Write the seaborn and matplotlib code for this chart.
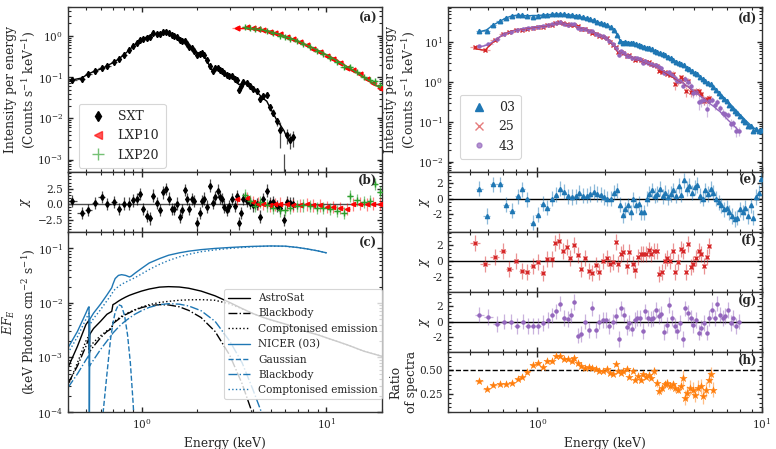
import numpy as np
import matplotlib
matplotlib.use("Agg")
import matplotlib.pyplot as plt
import seaborn as sns

# ---------------- values ----------------
# (a)/(b) AstroSat SXT
sxt_energy = [0.419, 0.475, 0.515, 0.56, 0.61, 0.653, 0.71, 0.755, 0.80, 0.86,
              0.90, 0.94, 0.98, 1.02, 1.07, 1.11, 1.15, 1.21, 1.26, 1.31,
              1.36, 1.41, 1.46, 1.50, 1.55, 1.61, 1.65, 1.71, 1.76, 1.81,
              1.87, 1.92, 1.99, 2.06, 2.12, 2.18, 2.25, 2.35, 2.43, 2.50,
              2.58, 2.66, 2.72, 2.79, 2.89, 2.99, 3.08, 3.21, 3.27, 3.36,
              3.44, 3.56, 3.71, 3.87, 4.03, 4.20, 4.38, 4.56, 4.76, 4.96,
              5.17, 5.39, 5.62, 5.90, 6.10, 6.36, 6.63]
sxt_counts = [0.085, 0.095, 0.12, 0.14, 0.16, 0.19, 0.23, 0.28, 0.34, 0.46,
              0.56, 0.65, 0.75, 0.85, 0.95, 1.02, 1.08, 1.12, 1.15, 1.16,
              1.15, 1.12, 1.06, 1.0, 0.93, 0.85, 0.78, 0.70, 0.62, 0.55,
              0.48, 0.42, 0.40, 0.38, 0.37, 0.33, 0.26, 0.17, 0.14, 0.16,
              0.155, 0.145, 0.135, 0.125, 0.115, 0.105, 0.10, 0.09, 0.075, 0.066,
              0.068, 0.070, 0.068, 0.060, 0.052, 0.045, 0.036, 0.030, 0.026, 0.018,
              0.013, 0.009, 0.007, 0.005, 0.0035, 0.0028, 0.0033]
sxt_chi = [0.5, -1.4, -0.9, 0.2, 1.2, 0.0, 0.4, -0.8, 0.1, 0.1,
           0.6, 0.8, 1.6, -0.8, -1.9, -2.3, 1.4, 0.2, -0.9, 1.9,
           2.5, 0.9, -0.8, -0.8, 0.1, -2.0, -0.9, 2.3, 0.8, -0.8,
           0.8, 0.5, -3.1, -1.4, 0.5, 0.9, -0.4, 3.0, 0.2, 1.1,
           2.2, 1.1, 0.8, -0.4, -0.9, -0.3, 0.8, -0.3, 1.3, -3.1,
           -1.4, 0.8, 0.5, 0.2, -0.2, 0.0, -2.0, 0.8, 2.2, 0.2,
           0.3, -0.3, -0.6, -2.6, 0.3, 0.2, 0.1]

# LAXPC 10 / 20
lxp10_energy = [3.30, 3.71, 4.03, 4.29, 4.56, 4.96, 5.28, 5.62, 6.10, 6.63, 7.21, 7.83,
                8.51, 9.25, 10.05, 10.9, 11.9, 12.9, 14.0, 15.2, 16.5, 17.9, 19.5]
lxp10_counts = [1.5, 1.5, 1.48, 1.45, 1.38, 1.28, 1.18, 1.08, 0.95, 0.83, 0.71, 0.60,
                0.50, 0.42, 0.34, 0.29, 0.23, 0.18, 0.145, 0.115, 0.09, 0.07, 0.055]
lxp10_chi = [0.8, 1.0, 0.3, 0.1, 0.1, -0.2, -0.05, 0.1, -0.05, -0.2, -0.2, -0.05,
             -0.2, -0.2, -0.45, -0.45, -0.6, -0.8, -0.05, 0.1, -0.05, 0.1, 0.1]
lxp20_energy = [3.63, 3.87, 4.11, 4.38, 4.76, 5.17, 5.62, 5.98, 6.36, 6.91, 7.51, 8.16,
                8.87, 9.64, 10.5, 11.4, 12.4, 13.4, 14.6, 15.9, 17.2, 18.3, 19.5]
lxp20_counts = [1.5, 1.49, 1.47, 1.43, 1.33, 1.2, 1.08, 0.98, 0.89, 0.77, 0.65, 0.55,
                0.46, 0.38, 0.31, 0.25, 0.2, 0.165, 0.13, 0.1, 0.08, 0.065, 0.055]
lxp20_chi = [1.5, 0.5, -0.3, 0.3, -0.2, -0.6, -1.0, -0.9, -0.6, -0.3, -0.2, -0.3,
             -0.6, -0.6, -0.8, -1.1, -1.4, 1.3, 0.7, 0.3, 0.5, 3.3, 2.0]

# (c) unfolded model components
mod_energy = [0.40, 0.45, 0.50, 0.515, 0.52, 0.522, 0.525, 0.53, 0.55, 0.60,
              0.65, 0.69, 0.70, 0.72, 0.75, 0.78, 0.82, 0.86, 0.88, 0.92,
              1.0, 1.1, 1.25, 1.4, 1.6, 1.8, 2.1, 2.5, 3.0, 3.5,
              4.0, 4.5, 5.0, 6.0, 7.0, 8.0, 9.0, 10.0, 13.0, 16.0, 20.0]
astro_total = [6.5e-4, 1.6e-3, 4.0e-3, 4.6e-3, 4.9e-3, 1.4e-3, 2.6e-3, 2.8e-3, 3.4e-3, 4.6e-3,
               6.2e-3, 7.0e-3, 9.3e-3, 9.8e-3, 0.0108, 0.0117, 0.0128, 0.0138, 0.0142, 0.015,
               0.0165, 0.018, 0.0195, 0.0199, 0.0196, 0.0186, 0.0165, 0.0135, 0.0102, 0.0079,
               0.0064, 0.0055, 0.0049, 0.0041, 0.0034, 0.0029, 0.0026, 0.0023, 0.0017, 0.0013, 0.00105]
astro_bbody = [3.3e-4, 7e-4, 1.6e-3, 2.1e-3, 2.2e-3, 1.2e-3, 1.3e-3, 1.35e-3, 1.6e-3, 2.3e-3,
               3.0e-3, 3.4e-3, 4.2e-3, 4.5e-3, 5.0e-3, 5.5e-3, 6.1e-3, 6.6e-3, 6.9e-3, 7.4e-3,
               8.2e-3, 8.9e-3, 9.3e-3, 9.2e-3, 8.5e-3, 7.3e-3, 5.4e-3, 3.0e-3, 1.1e-3, 3.3e-4,
               9e-5, 2e-5, 4e-6, 1e-7]
astro_compt = [3.0e-4, 8e-4, 2.0e-3, 2.4e-3, 2.6e-3, 1.6e-3, 1.5e-3, 1.6e-3, 1.9e-3, 2.5e-3,
               3.1e-3, 3.5e-3, 4.4e-3, 4.7e-3, 5.2e-3, 5.7e-3, 6.3e-3, 6.8e-3, 7.0e-3, 7.5e-3,
               8.4e-3, 9.3e-3, 0.0102, 0.0107, 0.0112, 0.0114, 0.0115, 0.0112, 0.0096, 0.0078,
               0.0064, 0.0055, 0.0049, 0.0041, 0.0034, 0.0029, 0.0026, 0.0023, 0.0017, 0.0013, 0.00105]
nicer_total = [1.5e-3, 3.0e-3, 6.5e-3, 8.2e-3, 8.5e-3, 3e-5, 5.0e-3, 5.3e-3, 6.5e-3, 9.5e-3,
               0.014, 0.019, 0.022, 0.028, 0.032, 0.033, 0.032, 0.030, 0.031, 0.035,
               0.043, 0.054, 0.065, 0.075, 0.083, 0.089, 0.095, 0.100, 0.104, 0.107,
               0.109, 0.110, 0.111, 0.110, 0.104, 0.097, 0.090, 0.083]
nicer_bbody = [2.8e-4, 5e-4, 9e-4, 1.05e-3, 1.1e-3, 7e-4, 7e-4, 7.5e-4, 9e-4, 1.4e-3,
               2.0e-3, 2.6e-3, 2.8e-3, 3.1e-3, 3.6e-3, 4.1e-3, 4.7e-3, 5.3e-3, 5.6e-3, 6.2e-3,
               7.2e-3, 8.3e-3, 9.3e-3, 9.7e-3, 9.5e-3, 8.8e-3, 7.2e-3, 4.6e-3, 2.0e-3, 8e-4,
               2.6e-4, 9e-5, 3e-5, 2e-6]
nicer_compt = [1.2e-3, 2.4e-3, 5.0e-3, 6.2e-3, 6.5e-3, 4.0e-3, 4.0e-3, 4.2e-3, 5.2e-3, 7.5e-3,
               0.011, 0.0145, 0.016, 0.018, 0.020, 0.022, 0.024, 0.026, 0.027, 0.029,
               0.034, 0.041, 0.051, 0.060, 0.070, 0.078, 0.087, 0.094, 0.100, 0.104,
               0.107, 0.109, 0.110, 0.109, 0.104, 0.097, 0.090, 0.083]
gauss_energy = [0.60, 0.62, 0.65, 0.68, 0.70, 0.72, 0.75, 0.78, 0.81, 0.84, 0.87, 0.90, 0.92]
nicer_gauss = [2e-5, 1e-4, 5e-4, 2.2e-3, 4.2e-3, 6.8e-3, 9.3e-3, 8.8e-3, 5.8e-3, 2.6e-3, 8e-4, 1.5e-4, 4e-5]

# (d)-(g) NICER observations 03, 25, 43
n03_energy = [0.552, 0.594, 0.632, 0.682, 0.725, 0.771, 0.817, 0.857, 0.902, 0.953,
              1.003, 1.056, 1.107, 1.158, 1.206, 1.261, 1.314, 1.364, 1.421, 1.481,
              1.537, 1.591, 1.658, 1.715, 1.787, 1.837, 1.914, 1.980, 2.049, 2.120,
              2.193, 2.270, 2.333, 2.398, 2.464, 2.532, 2.603, 2.675, 2.749, 2.825,
              2.903, 2.983, 3.066, 3.150, 3.238, 3.327, 3.419, 3.514, 3.611, 3.711,
              3.814, 3.92, 4.03, 4.14, 4.26, 4.37, 4.50, 4.62, 4.75, 4.88,
              5.02, 5.16, 5.30, 5.45, 5.60, 5.75, 5.91, 6.07, 6.24, 6.42,
              6.59, 6.78, 6.96, 7.16, 7.35, 7.56, 7.77, 7.98, 8.20, 8.43,
              8.66, 8.90, 9.15, 9.40, 9.66, 9.86]
n03_counts = [18, 20, 26, 33, 40, 45, 47, 46, 45, 46,
              46, 47, 48, 49, 50, 50, 49, 48, 47, 45,
              43, 41, 39, 37, 34, 32, 30, 28, 26, 23,
              20, 15, 11, 10, 10, 9.8, 9.5, 9.2, 8.8, 8.4,
              8.0, 7.6, 7.2, 6.8, 6.4, 6.0, 5.6, 5.2, 4.9, 4.5,
              4.2, 3.9, 3.5, 3.2, 2.95, 2.7, 2.45, 2.2, 2.0, 1.8,
              1.6, 1.45, 1.3, 1.15, 1.02, 0.92, 0.82, 0.72, 0.62, 0.54,
              0.47, 0.40, 0.34, 0.29, 0.25, 0.21, 0.18, 0.15, 0.13, 0.11,
              0.095, 0.082, 0.072, 0.063, 0.055, 0.05]
n03_chi = [1.3, -2.3, 1.9, 1.9, -0.8, -1.6, 0.3, 1.2, -0.1, -3.2,
           -2.1, -0.7, -1.2, 0.0, 0.5, 1.3, 0.9, 0.3, 0.2, 0.3,
           0.8, 0.4, 0.4, 0.6, 0.9, 0.6, 0.5, 0.2, 0.0, 0.0,
           0.8, 1.1, -0.8, -2.2, -1.4, -0.9, -1.8, -0.1, -0.9, -0.7,
           -1.8, -1.8, 0.0, 0.6, 1.1, 0.4, 0.6, 1.3, 0.3, 0.8,
           0.2, 0.6, 1.1, 0.4, 1.7, 0.5, 2.4, 1.3, 1.7, 0.8,
           1.5, 1.8, 0.4, 0.0, 1.1, 0.6, 1.3, 0.8, 0.0, -0.5,
           -0.9, -1.4, -1.2, -1.8, -2.3, -2.7, -2.5, -1.4, -1.8, -1.2,
           -2.3, -0.9, -2.5, 0.2, 0.8, 2.6]

n25_energy = [0.528, 0.584, 0.648, 0.700, 0.750, 0.803, 0.857, 0.902, 0.953, 1.003,
              1.056, 1.100, 1.158, 1.202, 1.252, 1.304, 1.350, 1.397, 1.456, 1.511,
              1.569, 1.630, 1.692, 1.757, 1.824, 1.887, 1.966, 2.035, 2.106, 2.178,
              2.239, 2.293, 2.349, 2.414, 2.498, 2.567, 2.657, 2.729, 2.815, 2.883,
              2.963, 3.045, 3.129, 3.216, 3.305, 3.397, 3.491, 3.588, 3.688, 3.790,
              3.895, 4.00, 4.11, 4.23, 4.35, 4.47, 4.59, 4.70, 4.82, 4.95,
              5.08, 5.22, 5.37, 5.52, 5.67, 5.83]
n25_counts = [6.7, 6.2, 11, 15, 18, 20, 21, 22, 23, 24,
              25, 26, 27, 28, 29, 28, 27, 26.5, 25, 24,
              22.5, 21, 19.5, 18, 16.5, 15, 13.5, 12, 10.5, 8.5,
              6.5, 5.6, 5.3, 5.0, 4.7, 4.4, 4.1, 3.8, 3.6, 3.4,
              3.2, 3.0, 2.8, 2.65, 2.5, 2.35, 2.1, 1.9, 1.75, 1.55,
              1.45, 1.3, 1.2, 1.1, 1.0, 0.93, 0.8, 0.75, 0.65, 0.6,
              0.55, 0.48, 0.43, 0.38, 0.33, 0.29]
n25_chi = [2.2, -0.4, 0.5, 1.2, -1.0, 0.0, -1.3, -1.4, -0.6, -0.2,
           -1.5, 0.2, 0.2, 2.2, 2.5, 1.2, 1.7, 0.3, 2.0, 0.7,
           -1.0, 0.3, -1.3, -1.5, -0.5, -1.4, 0.0, 0.4, -0.4, -0.2,
           2.3, -0.4, 0.9, 1.1, -0.6, 1.1, -0.4, -1.1, 0.5, 0.9,
           0.8, 0.9, 1.3, 0.9, 1.2, 1.2, -1.6, -1.4, 0.0, 0.3,
           0.0, 1.2, -1.4, -0.2, 1.5, 1.2, -1.4, 2.1, -0.8, -0.4,
           0.3, 1.2, 0.9, -0.6, 0.5, 1.9]

n43_energy = [0.552, 0.605, 0.659, 0.710, 0.760, 0.809, 0.860, 0.905, 0.953, 1.010,
              1.063, 1.119, 1.158, 1.206, 1.261, 1.314, 1.364, 1.411, 1.460, 1.511,
              1.564, 1.630, 1.692, 1.757, 1.818, 1.887, 1.953, 2.021, 2.091, 2.163,
              2.239, 2.301, 2.365, 2.430, 2.498, 2.567, 2.639, 2.711, 2.786, 2.863,
              2.942, 3.024, 3.107, 3.193, 3.282, 3.373, 3.466, 3.562, 3.661, 3.764,
              3.868, 3.975, 4.09, 4.20, 4.32, 4.44, 4.56, 4.68, 4.81, 4.95,
              5.08, 5.22, 5.37, 5.52, 5.67, 5.83, 5.99, 6.16, 6.33, 6.50,
              6.68, 6.87, 7.06, 7.26, 7.46, 7.66, 7.87]
n43_counts = [7.5, 8.5, 12, 15.5, 18, 20, 21.5, 22.5, 23.5, 24.5,
              25.5, 26.5, 27, 28, 28.5, 28, 27, 26.5, 25.5, 24,
              23, 21, 19.5, 18, 16.5, 15, 13.8, 12.2, 10.8, 9,
              6.8, 5.6, 5.2, 5.0, 4.7, 4.4, 4.15, 3.9, 3.7, 3.5,
              3.3, 3.1, 2.9, 2.75, 2.6, 2.4, 2.2, 2.0, 1.85, 1.7,
              1.55, 1.4, 1.28, 1.15, 1.05, 0.95, 0.85, 0.76, 0.68, 0.6,
              0.54, 0.48, 0.42, 0.37, 0.33, 0.29, 0.26, 0.23, 0.2, 0.18,
              0.15, 0.13, 0.11, 0.095, 0.082, 0.07, 0.06]
n43_chi = [0.9, 0.6, -0.3, 0.0, 0.0, -0.6, 0.0, -0.6, -0.6, -0.6,
           -0.2, 0.2, 0.8, 1.3, 2.3, 0.5, 0.3, 0.8, 2.5, -1.8,
           -1.6, 0.0, -1.1, 1.7, -1.1, 0.0, 0.2, 0.2, -0.6, 0.0,
           0.7, -2.2, 1.7, 0.9, -0.7, -0.2, -0.9, 0.2, 0.5, 0.5,
           -1.2, 1.3, 0.5, 0.3, 0.5, 1.5, 0.7, 1.0, -1.3, -0.4,
           2.1, 0.5, -0.5, -1.2, -0.2, -2.2, 1.7, 1.1, 0.5, -0.4,
           0.2, -1.4, -0.8, -0.2, -1.4, 0.5, 1.5, 0.5, 2.3, 0.9,
           0.5, 0.7, 1.5, -0.2, 0.5, -0.6, 0.0]

# (h) ratio of spectra 25 / 03
ratio_energy = [0.552, 0.598, 0.636, 0.682, 0.725, 0.771, 0.817, 0.857, 0.902, 0.953,
                1.003, 1.056, 1.100, 1.158, 1.206, 1.261, 1.314, 1.364, 1.421, 1.460,
                1.511, 1.569, 1.630, 1.692, 1.757, 1.824, 1.887, 1.966, 2.035, 2.106,
                2.178, 2.239, 2.293, 2.349, 2.414, 2.498, 2.567, 2.657, 2.729, 2.815,
                2.883, 2.963, 3.045, 3.129, 3.216, 3.305, 3.397, 3.491, 3.588, 3.688,
                3.790, 3.895, 4.00, 4.11, 4.23, 4.35, 4.47, 4.53, 4.65, 4.78,
                4.92, 5.05, 5.19, 5.34, 5.48, 5.63, 5.79, 5.95, 6.07]
ratio_value = [0.384, 0.30, 0.34, 0.348, 0.348, 0.366, 0.41, 0.43, 0.48, 0.554,
               0.576, 0.54, 0.60, 0.60, 0.656, 0.656, 0.627, 0.627, 0.60, 0.638,
               0.583, 0.547, 0.529, 0.54, 0.522, 0.511, 0.493, 0.493, 0.511, 0.475,
               0.467, 0.565, 0.493, 0.475, 0.493, 0.511, 0.431, 0.493, 0.402, 0.438,
               0.395, 0.457, 0.431, 0.446, 0.42, 0.493, 0.366, 0.275, 0.312, 0.348,
               0.366, 0.33, 0.348, 0.312, 0.293, 0.33, 0.42, 0.203, 0.257, 0.312,
               0.293, 0.239, 0.312, 0.33, 0.221, 0.293, 0.402, 0.457, 0.293]

# ---------------- style ----------------
sns.set_theme(style="ticks", context="paper")
plt.rcParams.update({
    "font.family": ["DejaVu Serif"],
    "mathtext.fontset": "dejavuserif",
    "font.size": 8.5, "axes.labelsize": 8.8, "xtick.labelsize": 7.6,
    "ytick.labelsize": 7.6, "legend.fontsize": 8,
    "xtick.direction": "in", "ytick.direction": "in",
    "xtick.top": True, "ytick.right": True,
    "xtick.minor.visible": True, "ytick.minor.visible": True,
    "xtick.major.size": 3.5, "ytick.major.size": 3.5,
    "xtick.minor.size": 2, "ytick.minor.size": 2,
    "axes.linewidth": 1.0, "axes.edgecolor": "0.2",
    "legend.frameon": True, "legend.framealpha": 0.8,
    "legend.edgecolor": "0.8", "legend.fancybox": True,
})

BLUE, RED, PURPLE, ORANGE = "tab:blue", "tab:red", "tab:purple", "tab:orange"


def halfwidths(e):
    e = np.asarray(e, float)
    d = np.diff(e)
    return np.vstack([np.r_[d[0], d] / 2, np.r_[d, d[-1]] / 2])


def spectrum(ax, e, model, chi, relerr, color, marker, ms, label, alpha=0.5):
    e, model, chi = map(np.asarray, (e, model, chi))
    err = model * relerr
    data = model + chi * err
    ax.errorbar(e, data, xerr=halfwidths(e), yerr=err, fmt="none", ecolor=color,
                alpha=alpha, elinewidth=0.9, capsize=0, zorder=2)
    ax.plot(e, data, ls="none", marker=marker, ms=ms, color=color, label=label, zorder=3)
    sns.lineplot(x=e, y=model, ax=ax, color=color, lw=1.0, estimator=None, sort=False, zorder=4)


def residuals(ax, e, chi, color, marker, ms, alpha=0.5):
    ax.errorbar(e, chi, xerr=halfwidths(e), yerr=np.ones(len(chi)), fmt="none",
                ecolor=color, alpha=alpha, elinewidth=0.9, capsize=0, zorder=2)
    ax.plot(e, chi, ls="none", marker=marker, ms=ms, color=color, zorder=3)


def tag(ax, s):
    ax.text(0.985, 0.97, s, transform=ax.transAxes, ha="right", va="top",
            fontweight="bold", fontsize=8.5)


fig = plt.figure(figsize=(7.76, 4.49), dpi=100)
gl = fig.add_gridspec(3, 1, left=0.0876, right=0.4923, top=0.9844, bottom=0.0824,
                      height_ratios=[165, 60, 180], hspace=0)
gr = fig.add_gridspec(5, 1, left=0.5773, right=0.982, top=0.9844, bottom=0.0824,
                      height_ratios=[165, 60, 60, 60, 60], hspace=0)
axa = fig.add_subplot(gl[0])
axb = fig.add_subplot(gl[1], sharex=axa)
axc = fig.add_subplot(gl[2], sharex=axa)
axd = fig.add_subplot(gr[0])
axe = fig.add_subplot(gr[1], sharex=axd)
axf = fig.add_subplot(gr[2], sharex=axd)
axg = fig.add_subplot(gr[3], sharex=axd)
axh = fig.add_subplot(gr[4], sharex=axd)

legend_kw = dict(loc="lower left", borderaxespad=0, fontsize=9, markerscale=1.6,
                 handlelength=2.0, handletextpad=0.6, borderpad=0.5)

# ---- (a) AstroSat spectra ----
e_sxt = np.asarray(sxt_energy)
sxt_rel = np.where(e_sxt < 3.0, 0.04, np.where(e_sxt < 4.5, 0.08, np.where(e_sxt < 5.5, 0.2, 0.45)))
spectrum(axa, sxt_energy, sxt_counts, sxt_chi, sxt_rel, "black", "d", 3.2, "SXT", alpha=0.7)
spectrum(axa, lxp10_energy, lxp10_counts, lxp10_chi, 0.07, "red", "<", 3.5, "LXP10", alpha=0.5)
spectrum(axa, lxp20_energy, lxp20_counts, lxp20_chi, 0.07, "tab:green", "+", 5, "LXP20", alpha=0.6)
axa.set_yscale("log")
axa.set_ylim(5e-4, 5)
axa.set_ylabel("Intensity per energy\n(Counts s$^{-1}$ keV$^{-1}$)")
axa.yaxis.set_label_coords(-0.1, 0.5)
leg = axa.legend(bbox_to_anchor=(0.035, 0.025), **legend_kw)
for h in leg.legend_handles[1:]:
    h.set_alpha(0.65)
tag(axa, "(a)")

# ---- (b) residuals ----
residuals(axb, sxt_energy, sxt_chi, "black", "d", 3, alpha=0.7)
residuals(axb, lxp10_energy, lxp10_chi, "red", "<", 3, alpha=0.5)
residuals(axb, lxp20_energy, lxp20_chi, "tab:green", "+", 5, alpha=0.6)
axb.axhline(0, color="0.3", lw=1.0, zorder=1)
axb.set_ylim(-4.5, 5.2)
axb.set_yticks([-2.5, 0.0, 2.5])
axb.set_ylabel(r"$\chi$")
axb.yaxis.set_label_coords(-0.112, 0.5)
tag(axb, "(b)")

# ---- (c) unfolded models ----
E = np.asarray(mod_energy)
sns.lineplot(x=E, y=astro_total, ax=axc, color="black", lw=1.0, estimator=None, sort=False,
             label="AstroSat")
sns.lineplot(x=E[:len(astro_bbody)], y=astro_bbody, ax=axc, color="black", lw=1.0,
             linestyle="-.", estimator=None, sort=False, label="Blackbody")
sns.lineplot(x=E, y=astro_compt, ax=axc, color="black", lw=1.0, linestyle=":",
             estimator=None, sort=False, label="Comptonised emission")
sns.lineplot(x=E[:len(nicer_total)], y=nicer_total, ax=axc, color=BLUE, lw=1.0,
             estimator=None, sort=False, label="NICER (03)")
sns.lineplot(x=gauss_energy, y=nicer_gauss, ax=axc, color=BLUE, lw=1.0, linestyle="--",
             estimator=None, sort=False, label="Gaussian")
sns.lineplot(x=E[:len(nicer_bbody)], y=nicer_bbody, ax=axc, color=BLUE, lw=1.0,
             linestyle="-.", estimator=None, sort=False, label="Blackbody")
sns.lineplot(x=E[:len(nicer_compt)], y=nicer_compt, ax=axc, color=BLUE, lw=1.0,
             linestyle=":", estimator=None, sort=False, label="Comptonised emission")
axc.set_yscale("log")
axc.set_ylim(1e-4, 0.2)
axc.set_ylabel("$EF_E$\n(keV Photons cm$^{-2}$ s$^{-1}$)")
axc.yaxis.set_label_coords(-0.1, 0.5)
axc.legend(loc="lower right", bbox_to_anchor=(1.0, 0.07), borderaxespad=0, fontsize=7.6)
axc.set_xlabel("Energy (keV)")
tag(axc, "(c)")

for ax in (axa, axb, axc):
    ax.set_xscale("log")
axa.set_xlim(0.4, 20)
for ax in (axa, axb):
    ax.tick_params(labelbottom=False)

# ---- (d) NICER spectra ----
e03 = np.asarray(n03_energy)
e25 = np.asarray(n25_energy)
e43 = np.asarray(n43_energy)
rel03 = np.where(e03 < 5, 0.02, np.where(e03 < 8, 0.04, 0.08))
rel25 = np.where(e25 < 2, 0.04, np.where(e25 < 4, 0.07, 0.2))
rel43 = np.where(e43 < 2, 0.04, np.where(e43 < 4.5, 0.08, 0.25))
spectrum(axd, n03_energy, n03_counts, n03_chi, rel03, BLUE, "^", 3.2, "03", alpha=0.6)
spectrum(axd, n25_energy, n25_counts, n25_chi, rel25, RED, "x", 3.2, "25", alpha=0.45)
spectrum(axd, n43_energy, n43_counts, n43_chi, rel43, PURPLE, "o", 2.2, "43", alpha=0.45)
axd.set_yscale("log")
axd.set_ylim(5.5e-3, 75)
axd.set_ylabel("Intensity per energy\n(Counts s$^{-1}$ keV$^{-1}$)")
axd.yaxis.set_label_coords(-0.1, 0.5)
leg = axd.legend(bbox_to_anchor=(0.038, 0.08), **legend_kw)
for h, a in zip(leg.legend_handles, (1.0, 0.6, 0.7)):
    h.set_alpha(a)
tag(axd, "(d)")

# ---- (e)-(g) residuals ----
for ax, e, chi, c, m, ms, lim, t in (
        (axe, n03_energy, n03_chi, BLUE, "^", 3, (-4.4, 3.5), "(e)"),
        (axf, n25_energy, n25_chi, RED, "x", 3, (-3.9, 3.6), "(f)"),
        (axg, n43_energy, n43_chi, PURPLE, "o", 2.2, (-3.9, 3.8), "(g)")):
    residuals(ax, e, chi, c, m, ms, alpha=0.5)
    ax.axhline(0, color="black", lw=1.0, zorder=1)
    ax.set_ylim(*lim)
    ax.set_yticks([-2, 0, 2])
    ax.set_yticklabels(["-2", "0", "2"])
    ax.set_ylabel(r"$\chi$")
    ax.yaxis.set_label_coords(-0.052, 0.5)
    tag(ax, t)

# ---- (h) ratio ----
er = np.asarray(ratio_energy)
ratio_err = np.where(er < 3.3, 0.015, np.where(er < 4.45, 0.04, 0.08))
axh.errorbar(ratio_energy, ratio_value, xerr=halfwidths(ratio_energy), yerr=ratio_err,
             fmt="none", ecolor=ORANGE, alpha=0.5, elinewidth=0.9, capsize=0)
sns.scatterplot(x=ratio_energy, y=ratio_value, ax=axh, marker="*", s=30, color=ORANGE,
                edgecolor=ORANGE, linewidth=0.3, zorder=3)
axh.axhline(0.5, color="black", lw=1.0, ls="--", zorder=1)
axh.set_ylim(0.05, 0.7)
axh.set_yticks([0.25, 0.50])
axh.set_yticklabels(["0.25", "0.50"])
axh.set_ylabel("Ratio\nof spectra")
axh.yaxis.set_label_coords(-0.097, 0.5)
axh.set_xlabel("Energy (keV)")
tag(axh, "(h)")

for ax in (axd, axe, axf, axg, axh):
    ax.set_xscale("log")
axd.set_xlim(0.4, 10)
for ax in (axd, axe, axf, axg):
    ax.tick_params(labelbottom=False)

fig.savefig("out.png", dpi=100)
